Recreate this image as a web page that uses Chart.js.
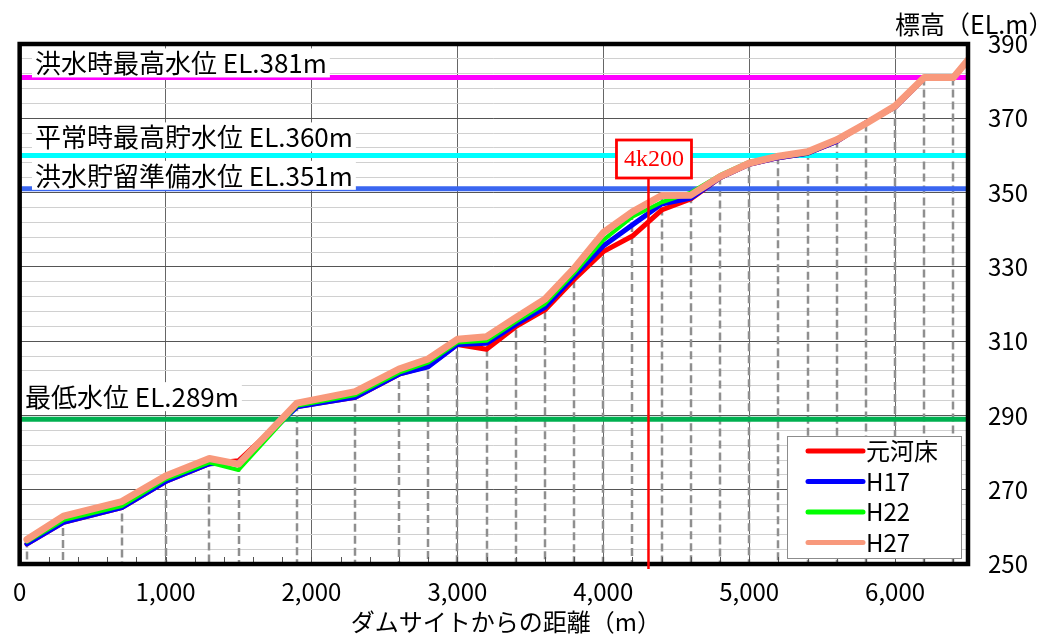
<!DOCTYPE html>
<html lang="ja">
<head>
<meta charset="utf-8">
<script src="https://cdn.jsdelivr.net/npm/chart.js@4.4.1/dist/chart.umd.min.js"></script>
<style>
  html, body { margin: 0; padding: 0; background: #fff; }
</style>
</head>
<body>
<canvas id="profileChart" width="1038" height="636"></canvas>
<script>
// Survey sections (distance from dam site, m)
const distances = [50, 300, 700, 1000, 1300, 1500, 1900, 2300, 2600, 2800, 3000, 3200, 3400, 3600,
  3800, 4000, 4200, 4400, 4600, 4800, 5000, 5200, 5400, 5600, 5800, 6000, 6200, 6400, 6500];

// Riverbed elevation (EL.m) per survey
const bedOriginal = [255.4, 261.2, 265.2, 272.2, 277.0, 277.8, 292.4, 294.9, 301.1, 303.3, 309.1, 307.8, 313.9, 318.4,
  326.6, 334.1, 338.3, 345.3, 348.3, 354.0, 357.6, 359.4, 360.6, 363.8, 368.8, 373.0, 380.8, 380.8, 385.7];
const bedH17 = [255.4, 261.2, 265.2, 272.2, 277.0, 277.3, 292.3, 294.9, 301.1, 303.1, 309.1, 309.4, 314.5, 319.1,
  327.5, 335.6, 341.3, 346.9, 348.5, 354.0, 357.6, 359.4, 360.6, 363.8, 368.8, 373.0, 380.8, 380.8, 385.7];
const bedH22 = [256.0, 261.8, 265.6, 272.8, 277.3, 275.3, 292.6, 295.5, 301.5, 304.2, 309.6, 310.1, 315.2, 320.0,
  328.3, 337.2, 343.5, 347.4, 350.0, 354.7, 358.3, 359.6, 360.6, 364.0, 368.6, 373.0, 380.8, 380.8, 385.5];
const bedH27 = [256.6, 262.9, 266.8, 273.7, 278.4, 276.9, 293.3, 296.4, 302.5, 305.2, 310.5, 311.2, 316.3, 321.3,
  329.6, 339.2, 344.8, 349.2, 349.3, 354.3, 357.9, 359.8, 361.0, 364.2, 368.6, 373.3, 381.0, 381.0, 385.7];

const seriesNames = ["元河床", "H17", "H22", "H27"];
const seriesData = [bedOriginal, bedH17, bedH22, bedH27];
const seriesColors = ["#ff0000", "#0000ff", "#00ff00", "#f8997c"];
const seriesWidths = [5, 5, 4, 7];

// Reservoir water levels
const levelNames = ["洪水時最高水位", "平常時最高貯水位", "洪水貯留準備水位", "最低水位"];
const levelValues = [381, 360, 351, 289];
const levelColors = ["#ff00ff", "#00ffff", "#3a66f0", "#00b050"];

// Section marker
const markerDistance = 4310;
const markerLabel = "4k200";

const xTitle = "ダムサイトからの距離（m）";
const yTitle = "標高（EL.m）";

const X_MIN = 0, X_MAX = 6500, Y_MIN = 250, Y_MAX = 390;
const FONT = '"Noto Sans CJK JP", "Noto Sans", sans-serif';

// label placement: [x, offset above line]
const labelPlacement = [[35, -14], [35, -18], [35, -13], [25, -22]];

const profileSets = seriesNames.map((name, i) => ({
  label: name,
  data: distances.map((d, j) => ({ x: d, y: seriesData[i][j] })),
  borderColor: seriesColors[i],
  backgroundColor: seriesColors[i],
  borderWidth: seriesWidths[i],
  borderJoinStyle: "round",
  borderCapStyle: "round",
  pointRadius: 0,
  tension: 0,
  order: 3 - i,
}));

const levelSets = levelNames.map((name, i) => ({
  label: name,
  data: [{ x: X_MIN, y: levelValues[i] }, { x: X_MAX, y: levelValues[i] }],
  borderColor: levelColors[i],
  borderWidth: 5,
  pointRadius: 0,
  order: 10,
}));

const overlayPlugin = {
  id: "overlay",
  beforeDatasetsDraw(chart) {
    const { ctx, chartArea: a, scales: { x, y } } = chart;
    ctx.save();
    ctx.beginPath();
    ctx.rect(a.left, a.top, a.right - a.left, a.bottom - a.top);
    ctx.clip();
    // dashed drop lines at each survey section
    ctx.strokeStyle = "#8f8f8f";
    ctx.lineWidth = 2.5;
    ctx.setLineDash([8, 4]);
    distances.forEach((d, i) => {
      if (d >= X_MAX) return;
      const px = Math.round(x.getPixelForValue(d));
      ctx.beginPath();
      ctx.moveTo(px, y.getPixelForValue(bedH27[i]));
      ctx.lineTo(px, a.bottom);
      ctx.stroke();
    });
    ctx.restore();
  },
  afterDatasetsDraw(chart) {
    const { ctx, chartArea: a, scales: { x, y } } = chart;
    ctx.save();

    // inward minor ticks on the distance axis
    ctx.strokeStyle = "#555";
    ctx.lineWidth = 1;
    x.ticks.forEach((t) => {
      const px = Math.round(x.getPixelForValue(t.value)) + 0.5;
      ctx.beginPath();
      ctx.moveTo(px, a.bottom - 7);
      ctx.lineTo(px, a.bottom);
      ctx.stroke();
    });

    // plot frame
    ctx.strokeStyle = "#000";
    ctx.lineWidth = 4.5;
    ctx.strokeRect(a.left, a.top, a.right - a.left, a.bottom - a.top);

    // water level labels
    ctx.font = "26px " + FONT;
    ctx.textBaseline = "middle";
    ctx.textAlign = "left";
    levelNames.forEach((name, i) => {
      const text = name + " EL." + levelValues[i] + "m";
      const [lx, dy] = labelPlacement[i];
      const ly = y.getPixelForValue(levelValues[i]) + dy;
      const w = ctx.measureText(text).width;
      ctx.fillStyle = "#fff";
      ctx.fillRect(lx - 3, ly - 15, w + 6, 29);
      ctx.fillStyle = "#000";
      ctx.fillText(text, lx, ly);
    });

    // 4k200 marker
    const mx = x.getPixelForValue(markerDistance);
    const boxW = 75, boxH = 38;
    const boxTop = a.top + 96;
    const boxLeft = mx - 32;
    ctx.strokeStyle = "#ff0000";
    ctx.lineWidth = 2.5;
    ctx.beginPath();
    ctx.moveTo(mx, boxTop + boxH);
    ctx.lineTo(mx, a.bottom + 5);
    ctx.stroke();
    ctx.fillStyle = "#fff";
    ctx.fillRect(boxLeft, boxTop, boxW, boxH);
    ctx.lineWidth = 2.8;
    ctx.strokeRect(boxLeft, boxTop, boxW, boxH);
    ctx.fillStyle = "#ff0000";
    ctx.font = '24px "Liberation Serif", "DejaVu Serif", serif';
    ctx.textAlign = "center";
    ctx.fillText(markerLabel, boxLeft + boxW / 2, boxTop + boxH / 2 + 1);

    // legend
    const lgW = 174, lgH = 122;
    const lgLeft = a.right - 7 - lgW;
    const lgTop = a.bottom - 6 - lgH;
    ctx.fillStyle = "#fff";
    ctx.fillRect(lgLeft, lgTop, lgW, lgH);
    ctx.strokeStyle = "#8c8c8c";
    ctx.lineWidth = 1;
    ctx.strokeRect(lgLeft + 0.5, lgTop + 0.5, lgW, lgH);
    ctx.font = "24px " + FONT;
    ctx.textAlign = "left";
    ctx.lineCap = "round";
    profileSets.forEach((ds, i) => {
      const ry = lgTop + 15 + i * 30.5;
      ctx.strokeStyle = ds.borderColor;
      ctx.lineWidth = 5;
      ctx.beginPath();
      ctx.moveTo(lgLeft + 21, ry);
      ctx.lineTo(lgLeft + 76, ry);
      ctx.stroke();
      ctx.fillStyle = "#000";
      ctx.fillText(ds.label, lgLeft + 79, ry);
    });

    // axis titles
    ctx.fillStyle = "#000";
    ctx.font = "25px " + FONT;
    ctx.textAlign = "left";
    ctx.fillText(yTitle, 895, 24);
    ctx.font = "24px " + FONT;
    ctx.textAlign = "center";
    ctx.fillText(xTitle, (a.left + a.right) / 2 + 12, 622);

    ctx.restore();
  },
};

new Chart(document.getElementById("profileChart"), {
  type: "line",
  data: { datasets: [...profileSets, ...levelSets] },
  options: {
    responsive: false,
    animation: false,
    layout: { padding: { left: 17, top: 44, right: 0, bottom: 0 } },
    plugins: { legend: { display: false }, tooltip: { enabled: false } },
    scales: {
      x: {
        type: "linear",
        position: "bottom",
        min: X_MIN,
        max: X_MAX,
        border: { display: false },
        grid: {
          drawTicks: false,
          lineWidth: 1,
          color: (c) => (c.tick && c.tick.value % 1000 === 0 ? "#666" : "rgba(0,0,0,0)"),
        },
        ticks: {
          stepSize: 200,
          includeBounds: false,
          autoSkip: false,
          maxRotation: 0,
          padding: 13,
          color: "#000",
          font: { family: FONT, size: 24 },
          callback: (v) => (v % 1000 === 0 ? v.toLocaleString("en-US") : ""),
        },
        afterFit: (s) => { s.height = 72; },
      },
      y: {
        type: "linear",
        position: "right",
        min: Y_MIN,
        max: Y_MAX,
        border: { display: false },
        grid: {
          drawTicks: false,
          lineWidth: 1,
          color: (c) => (c.tick && (c.tick.value - Y_MIN) % 20 === 0 ? "#555" : "#d0d0d0"),
        },
        ticks: {
          stepSize: 4,
          autoSkip: false,
          padding: 20,
          color: "#000",
          font: { family: FONT, size: 24 },
          callback: (v) => ((v - Y_MIN) % 20 === 0 ? v : ""),
        },
        afterFit: (s) => { s.width = 70; },
      },
    },
  },
  plugins: [overlayPlugin],
});
</script>
</body>
</html>
